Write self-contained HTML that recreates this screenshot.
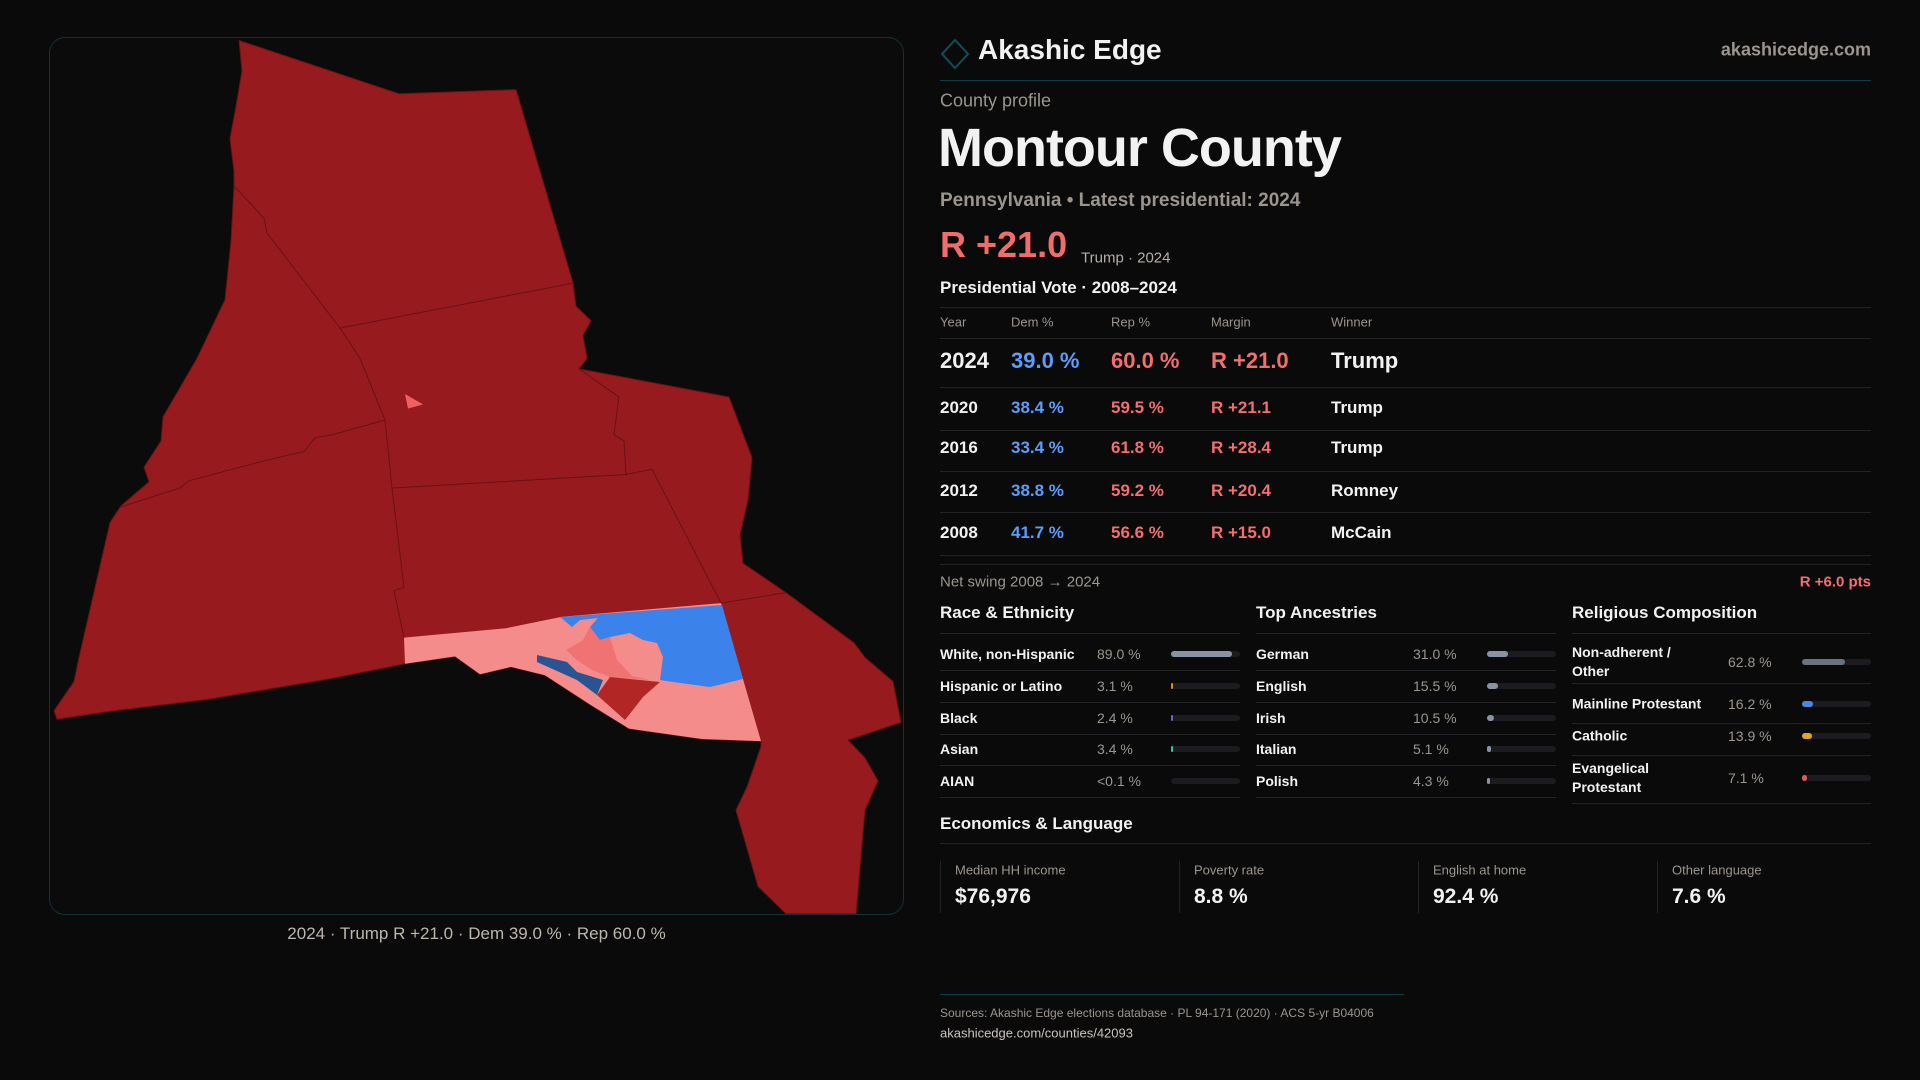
<!DOCTYPE html>
<html><head><meta charset="utf-8">
<style>
*{box-sizing:border-box;margin:0;padding:0}
body{width:1920px;height:1080px;background:#0a0a0b;font-family:"Liberation Sans",sans-serif;color:#f2f2f2;position:relative;overflow:hidden}
.a{position:absolute;white-space:nowrap}
.c{transform:translateY(-50%)}
.muted{color:#9b958d}
.hr{position:absolute;height:1px;background:#232326}
.blue{color:#5b9dfb}.red{color:#f56e6e}
</style></head><body>
<div class="a" style="left:49px;top:37px;width:855px;height:878px;border:1px solid #123238;border-radius:16px;background:#0b0b0c;overflow:hidden">
<svg width="855" height="878" viewBox="49 37 855 878" style="position:absolute;left:-1px;top:-1px">
<g transform="matrix(1 0 0 1.0458 0 -1.374)">
<g stroke="#6a1214" stroke-width="1" stroke-linejoin="round">
<polygon fill="#971b1e" points="239,40 399,91 516,87 573,272 576,294 591,308 583,322 587,344 579,354 729,381 752,439 748,479 740,513 743,540 786,568 854,616 865,630 893,653 901,692 848,709 865,726 878,748 865,776 856,875 786,875 758,849 736,776 747,754 761,715 761,710 702,708 629,698 590,675 545,647 511,639 480,646 455,629 405,636 332,650 208,670 113,681 57,689 54,681 74,653 79,630 110,501 121,485 149,462 144,448 161,423 163,400 197,344 225,288 231,232 234,179 234,165 230,134 236,103 242,69"/>
<polyline fill="none" points="573,272 340,315"/>
<polyline fill="none" points="234,179 264,210 267,224 340,315 360,344 385,403 392,468 404,563 394,566 404,611"/>
<polyline fill="none" points="385,403 332,417 315,420 304,433 264,442 189,461 180,468 121,486"/>
<polyline fill="none" points="392,468 626,455 624,423 614,417 619,381 579,354"/>
<polyline fill="none" points="626,455 652,450 721,578 786,568"/>
</g>
<polygon fill="#f38c8b" points="404,611 506,602 562,591 721,578 761,710 702,708 629,698 590,675 545,647 511,639 480,646 455,629 405,636"/>
<polygon fill="#f06060" points="405,378 423,388 408,392"/>
</g>
<polygon fill="#3b82ea" points="560,617 722,605 743,679 710,687 673,682 660,680 663,657 657,643 643,640 630,633 610,637 600,640 590,627 598,618 580,620 572,627"/>
<polygon fill="#f07272" points="590,627 600,640 610,637 617,660 632,676 650,680 610,677 592,670 577,660 566,650 575,645 583,640"/>
<polygon fill="#285494" points="537,655 567,662 577,672 603,680 597,695 577,680 537,662"/>
<polygon fill="#b22626" points="610,677 660,682 643,697 625,720 597,695"/>
</svg>
</div>
<div class="a" style="left:49px;width:855px;top:924px;text-align:center;font-size:17px;color:#bdb6ac">2024 · Trump R +21.0 · Dem 39.0 % · Rep 60.0 %</div>

<svg class="a" style="left:940px;top:38px" width="30" height="32"><polygon points="15,2 28,16 15,30 2,16" fill="none" stroke="#0f4e5a" stroke-width="2"/></svg>
<div class="a c" style="left:978px;top:50px;font-size:28px;font-weight:bold">Akashic Edge</div>
<div class="a c muted" style="right:49px;top:50px;font-size:18px;font-weight:bold">akashicedge.com</div>
<div class="hr" style="left:940px;width:931px;top:80px;background:#0f3d45"></div>
<div class="a c muted" style="left:940px;top:101px;font-size:18px">County profile</div>
<div class="a c" style="left:938px;top:148px;font-size:54px;font-weight:bold;letter-spacing:-1px">Montour County</div>
<div class="a c muted" style="left:940px;top:201px;font-size:19px;font-weight:bold">Pennsylvania • Latest presidential: 2024</div>
<div class="a c" style="left:940px;top:245px;font-size:36px;font-weight:bold;color:#f36c6c">R +21.0</div>
<div class="a c muted" style="left:1081px;top:258px;font-size:15px;color:#b5aea5">Trump · 2024</div>
<div class="a c" style="left:940px;top:288px;font-size:17px;font-weight:bold">Presidential Vote · 2008–2024</div>
<div class="hr" style="left:940px;width:931px;top:307px"></div>
<div id="tbl"></div>
<div class="a c muted" style="left:940px;top:582px;font-size:15px">Net swing 2008 → 2024</div>
<div class="a c red" style="right:49px;top:582px;font-size:15px;font-weight:bold">R +6.0 pts</div>
<div id="demo"></div>
<div class="a c" style="left:940px;top:824px;font-size:17px;font-weight:bold">Economics &amp; Language</div>
<div class="hr" style="left:940px;width:931px;top:843px"></div>
<div id="econ"></div>
<div class="hr" style="left:940px;width:464px;top:994px;background:#0f3d45"></div>
<div class="a c muted" style="left:940px;top:1013px;font-size:12px">Sources: Akashic Edge elections database · PL 94-171 (2020) · ACS 5-yr B04006</div>
<div class="a c" style="left:940px;top:1033px;font-size:13px;color:#c9c3ba">akashicedge.com/counties/42093</div>

<script>
const years=["2024","2020","2016","2012","2008"];
const demPct=[39.0,38.4,33.4,38.8,41.7];
const repPct=[60.0,59.5,61.8,59.2,56.6];
const margins=[21.0,21.1,28.4,20.4,15.0];
const winners=["Trump","Trump","Trump","Romney","McCain"];
const raceLabels=["White, non-Hispanic","Hispanic or Latino","Black","Asian","AIAN"];
const raceValues=[89.0,3.1,2.4,3.4,0.05];
const raceText=["89.0 %","3.1 %","2.4 %","3.4 %","<0.1 %"];
const ancLabels=["German","English","Irish","Italian","Polish"];
const ancValues=[31.0,15.5,10.5,5.1,4.3];
const relLabels=["Non-adherent /<br>Other","Mainline Protestant","Catholic","Evangelical<br>Protestant"];
const relValues=[62.8,16.2,13.9,7.1];
const econLabels=["Median HH income","Poverty rate","English at home","Other language"];
const econValues=["$76,976","8.8 %","92.4 %","7.6 %"];

function mk(parent,cls,style,html){const d=document.createElement('div');d.className=cls;d.style.cssText=style;d.innerHTML=html;parent.appendChild(d);return d;}
const tbl=document.getElementById('tbl');
const colX=[940,1011,1111,1211,1331];
["Year","Dem %","Rep %","Margin","Winner"].forEach((h,i)=>{
 const e=mk(tbl,'a c muted','left:'+colX[i]+'px;top:322px;font-size:13px',h);
 
 
});
mk(tbl,'hr','left:940px;width:931px;top:338px','');
const rowY=[361,408,448,491,533];
const lineY=[387,430,471,512,555];
years.forEach((y,i)=>{
 const fs=i==0?22:17;const t='top:'+rowY[i]+'px;font-size:'+fs+'px;font-weight:bold;';
 const cells=[[y,''],[demPct[i].toFixed(1)+' %','blue'],[repPct[i].toFixed(1)+' %','red'],['R +'+margins[i].toFixed(1),'red'],[winners[i],'']];
 cells.forEach((c,j)=>{
  const e=mk(tbl,'a c '+c[1],t+'left:'+colX[j]+'px;'+(j==0||j==4?'color:#f2f2f2;':''),c[0]);
  
  
 });
 mk(tbl,'hr','left:940px;width:931px;top:'+lineY[i]+'px','');
});
mk(tbl,'hr','left:940px;width:931px;top:564px','');

const demo=document.getElementById('demo');
const secX=[940,1256,1572];
["Race &amp; Ethnicity","Top Ancestries","Religious Composition"].forEach((h,i)=>{
 const e=mk(demo,'a c','left:'+secX[i]+'px;top:613px;font-size:17px;font-weight:bold',h);
 
 
 mk(demo,'hr','left:'+secX[i]+'px;width:'+(i==2?299:300)+'px;top:633px','');
});
const rY=[654,686,718,749,781];
function bar(x,y,v,col){
 const tr=mk(demo,'a','left:'+x+'px;top:'+(y-3)+'px;width:69px;height:6px;border-radius:3px;background:#1c1c20','');
 
 
 const w=Math.max(v/100*69, v>=1?2:0);
 const f=mk(tr,'','position:absolute;left:0;top:0;height:6px;border-radius:3px;width:'+w+'px;background:'+col,'');
 
 
}
const raceColors=["#8a93a3","#e8861c","#7a5ce0","#2ec4a0","#555"];
raceLabels.forEach((l,i)=>{
 const e=mk(demo,'a c','left:940px;top:'+rY[i]+'px;font-size:14px;font-weight:bold',l);
 
 
 const v=mk(demo,'a c muted','left:1097px;top:'+rY[i]+'px;font-size:14px',raceText[i]);
 
 
 bar(1171,rY[i],raceValues[i],raceColors[i]);
 mk(demo,'hr','left:940px;width:300px;top:'+(rY[i]+16)+'px','');
});
ancLabels.forEach((l,i)=>{
 const e=mk(demo,'a c','left:1256px;top:'+rY[i]+'px;font-size:14px;font-weight:bold',l);
 
 
 const v=mk(demo,'a c muted','left:1413px;top:'+rY[i]+'px;font-size:14px',ancValues[i].toFixed(1)+' %');
 
 
 bar(1487,rY[i],ancValues[i],"#8a93a3");
 mk(demo,'hr','left:1256px;width:300px;top:'+(rY[i]+16)+'px','');
});
const relY=[662,704,736,778];const relLine=[683,723,755,803];
const relColors=["#6b7280","#4a88e0","#e0a81c","#e05a5a"];
relLabels.forEach((l,i)=>{
 const e=mk(demo,'a c','left:1572px;top:'+relY[i]+'px;font-size:14px;font-weight:bold;line-height:19px;white-space:normal;width:140px',l);
 
 
 const v=mk(demo,'a c muted','left:1728px;top:'+relY[i]+'px;font-size:14px',relValues[i].toFixed(1)+' %');
 
 
 bar(1802,relY[i],relValues[i],relColors[i]);
 mk(demo,'hr','left:1572px;width:299px;top:'+relLine[i]+'px','');
});
const econ=document.getElementById('econ');
const cardX=[940,1179,1418,1657];
econLabels.forEach((l,i)=>{
 const c=mk(econ,'a','left:'+cardX[i]+'px;top:861px;width:220px;height:52px;border-left:1px solid #232326','');
 
 
 const a=mk(econ,'a c muted','left:'+(cardX[i]+15)+'px;top:870px;font-size:13px',l);
 
 
 const b=mk(econ,'a c','left:'+(cardX[i]+15)+'px;top:897px;font-size:21px;font-weight:bold',econValues[i]);
 
 
});
</script>
</body></html>
